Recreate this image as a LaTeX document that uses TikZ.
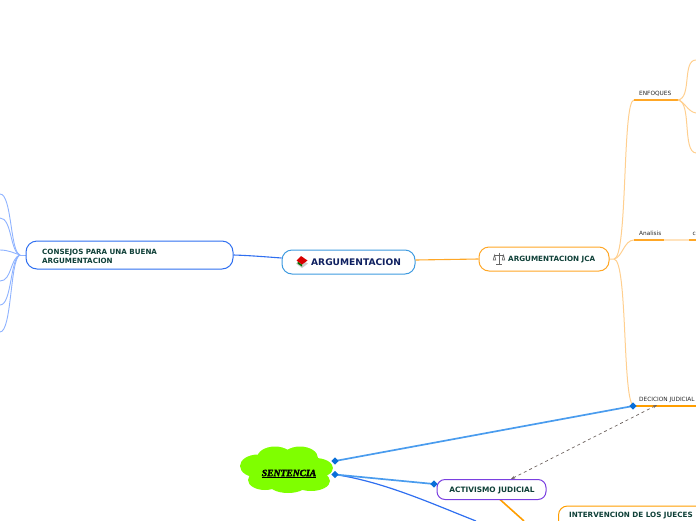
\documentclass[tikz,border=0pt]{standalone}
\usepackage{fontspec}
\setmainfont{DejaVu Sans}
\newfontfamily\serifcloud[FakeBold=2.5]{Liberation Serif}
\usetikzlibrary{arrows.meta}
\definecolor{txtgreen}{HTML}{0F4038}
\definecolor{txtnavy}{HTML}{0F2060}
\definecolor{mapblue}{HTML}{2F6FF0}
\definecolor{skyblue}{HTML}{4A9CEE}
\definecolor{rootblue}{HTML}{3F9BE0}
\definecolor{orange1}{HTML}{FFA726}
\definecolor{orange2}{HTML}{FFCF8F}
\definecolor{orange4}{HTML}{FFE3BE}
\definecolor{orange3}{HTML}{FF9E00}
\definecolor{paleblue}{HTML}{8FB3FF}
\definecolor{purple1}{HTML}{7A3FE0}
\definecolor{cloudgreen}{HTML}{7FFF00}
\definecolor{diam}{HTML}{0A6FD8}
\definecolor{dashgray}{HTML}{6E6460}
\tikzset{
  x=1pt,y=-1pt,
  pill/.style={draw,rounded corners=#1,fill=white,line width=1pt,inner sep=0pt},
  bold1/.style={font=\fontsize{7.2}{9}\selectfont\bfseries,text=txtgreen,inner sep=0pt},
  small1/.style={font=\fontsize{5.8}{7}\selectfont,text=black!85,inner sep=0pt,anchor=west},
  pale/.style={orange2,line width=1pt},
  bluelink/.style={paleblue,line width=.9pt},
  diamondtip/.style={fill=diam,draw=none},
}
\newcommand{\diamondat}[1]{\fill[diamondtip] (#1)+(-3.6,0)--+(0,-3.6)--+(3.6,0)--+(0,3.6)--cycle;}
\begin{document}
\begin{tikzpicture}
\useasboundingbox (0,0) rectangle (696,520);
\clip (0,0) rectangle (696,520);
% anchors
\coordinate (e1) at (0,194);\coordinate (e2) at (0,218);\coordinate (e3) at (0,250);
\coordinate (e4) at (0,281);\coordinate (e5) at (0,305);\coordinate (e6) at (0,332);
\coordinate (lh) at (26,255);\coordinate (lj) at (20,255);
\coordinate (jr) at (609,259);\coordinate (jj) at (614,259);
\coordinate (enf0) at (634,100);\coordinate (enf1) at (678,100);
\coordinate (an0) at (634,240);\coordinate (an1) at (664,240);\coordinate (an2) at (689,240);\coordinate (an3) at (696,240);
\coordinate (dec0) at (634,406);\coordinate (dec1) at (696,406);
\coordinate (f1) at (696,60);\coordinate (f2) at (696,113);\coordinate (f3) at (696,153);
\coordinate (dA) at (657,405);\coordinate (dB) at (511,479);
\coordinate (dS1) at (335,461);\coordinate (dS2) at (335,474.5);\coordinate (dD) at (633,406);\coordinate (dAc) at (434,484);
\coordinate (blueend) at (476,521);\coordinate (orangeend) at (524,521);
% links under nodes
\draw[bluelink] (lh)--(lj);
\draw[bluelink] (lj) .. controls (10,252) and (12,194) .. (e1);
\draw[bluelink] (lj) .. controls (10,252) and (12,218) .. (e2);
\draw[bluelink] (lj) .. controls (14,253) and (8,250) .. (e3);
\draw[bluelink] (lj) .. controls (10,258) and (12,281) .. (e4);
\draw[bluelink] (lj) .. controls (10,258) and (12,305) .. (e5);
\draw[bluelink] (lj) .. controls (10,258) and (12,332) .. (e6);
% right tree
\draw[pale] (jr)--(jj) .. controls (628,258) and (622,100) .. (enf0);
\draw[pale] (jj) .. controls (622,258) and (624,240) .. (an0);
\draw[pale] (jj) .. controls (628,260) and (622,405) .. (dec0);
\draw[orange1,line width=1.5pt] (enf0)--(enf1);
\draw[pale] (enf1) .. controls (692,98) and (682,60) .. (f1);
\draw[pale] (enf1) .. controls (684,101) and (688,112) .. (f2);
\draw[pale] (enf1) .. controls (692,102) and (682,152) .. (f3);
\draw[orange1,line width=1.5pt] (an0)--(an1);
\draw[orange4,line width=1.5pt] (an1)--(an2);
\draw[orange1,line width=1.5pt] (an2)--(an3);
\draw[orange3,line width=1.5pt] (dec0)--(dec1);
% nodes
\node[pill=11pt,draw=mapblue,minimum width=207pt,minimum height=28pt] (con) at (129.5,255) {};
\node[bold1,align=left,anchor=west,font=\fontsize{7.15}{9}\selectfont\bfseries] (contxt) at (42,256) {CONSEJOS PARA UNA BUENA\\ARGUMENTACION};
\node[pill=10pt,draw=rootblue,minimum width=133pt,minimum height=24pt] (root) at (348.5,262) {};
\node[inner sep=0pt,anchor=west,font=\fontsize{9.1}{11}\selectfont\bfseries,text=txtnavy] (roottxt) at (311,262.5) {ARGUMENTACION};
\node[pill=10pt,draw=orange1,minimum width=130pt,minimum height=24pt] (jca) at (544,259) {};
\node[bold1,anchor=west] (jcatxt) at (508,259.5) {ARGUMENTACION JCA};
\draw[mapblue,line width=1.1pt] (con.east) .. controls (250,255.5) and (268,257) .. ([yshift=4pt]root.west);
\draw[orange1,line width=1.1pt] ([yshift=2pt]root.east)--(jca.west);
\node[small1] (enf) at (639,93.5) {ENFOQUES};
\node[small1] (ana) at (639,233.5) {Analisis};
\node[small1] (cc) at (692.5,233.5) {c};
\node[small1] (dec) at (639,399.5) {DECICION JUDICIAL};
% orange link, blue links
\draw[orange3,line width=1.6pt] (500,499.5)--(orangeend);
\draw[mapblue,line width=1.2pt] (dS2) .. controls (385,482) and (435,505) .. (blueend);
\draw[skyblue,line width=1.7pt] (dS1)--(dD);
\draw[skyblue,line width=1.7pt] (dS2)--(dAc);
% dashed
\draw[dashed,dashgray,line width=.7pt,{Stealth[length=4pt,open]}-{Stealth[length=4pt,open]}] (dB)--(dA);
% activismo
\node[pill=8pt,draw=purple1,minimum width=109pt,minimum height=20pt] (act) at (491.5,489.5) {};
\node[bold1,font=\fontsize{7.4}{8}\selectfont\bfseries] (acttxt) at (492,490) {ACTIVISMO JUDICIAL};
% intervencion
\node[pill=9pt,draw=orange3,minimum width=190pt,minimum height=40pt,anchor=north west] (int) at (558,505.5) {};
\node[bold1,anchor=west,font=\fontsize{7.2}{8}\selectfont\bfseries] (inttxt) at (569,516) {INTERVENCION DE LOS JUECES};
% cloud
\fill[cloudgreen] (258,466) ellipse (18 and 11.5) (275,458) ellipse (18 and 11.5)
 (300,458) ellipse (18 and 11.5) (315,468) ellipse (18 and 10) (311,481) ellipse (19 and 10)
 (288,483) ellipse (20 and 10) (265,480) ellipse (17 and 10) (286,470) ellipse (35 and 17);
\node[inner sep=0pt,font=\serifcloud\fontsize{9.6}{12}\selectfont\bfseries\itshape,text=black] (sent) at (289,474) {\underline{SENTENCIA}};
% diamonds
\diamondat{dS1}\diamondat{dS2}\diamondat{dAc}\diamondat{dD}
% book icon
\begin{scope}[shift={(302,261.5)}]
 \fill[black!20] (-6,2)--(0,-1)--(6,2)--(0,6.5)--cycle;
 \fill[green!45!black] (-4.5,2)--(0,5)--(0,3)--(-4.5,0)--cycle;
 \fill[red!85!black] (-5.5,-1)--(-1,-5.5)--(5.5,-1)--(0,3)--cycle;
\end{scope}
% scales icon
\begin{scope}[shift={(499,258.5)},black!60,line width=.6pt]
 \draw[line width=1pt] (0,-6)--(0,5.5) (-3,5.7)--(3,5.7);
 \draw (-4.5,-3.5)--(4.5,-3.5);
 \draw (-4.5,-3.5)--(-5.8,1.5)--(-3.2,1.5)--cycle (4.5,-3.5)--(3.2,1.5)--(5.8,1.5)--cycle;
\end{scope}
\end{tikzpicture}
\end{document}
